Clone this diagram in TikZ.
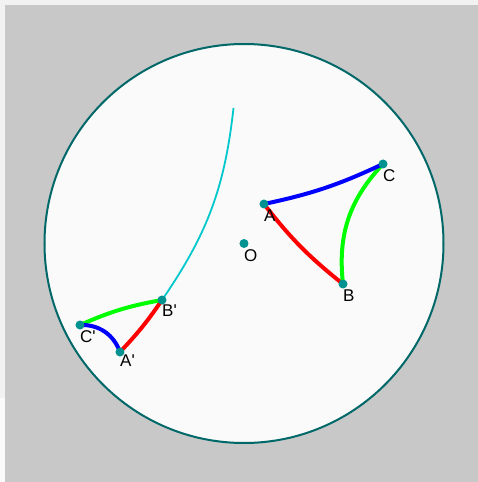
\documentclass[tikz,border=0pt]{standalone}
\usepackage{fontspec}
\setmainfont{Liberation Sans}
\usetikzlibrary{positioning}
\definecolor{frame}{HTML}{F2F2F2}
\definecolor{panel}{HTML}{C8C8C8}
\definecolor{disk}{HTML}{FAFAFA}
\definecolor{rim}{RGB}{0,104,104}
\definecolor{pt}{RGB}{0,145,145}
\definecolor{ray}{RGB}{0,200,205}
\tikzset{
    dot/.style={circle, fill=pt, inner sep=0pt, minimum size=9pt},
    lbl/.style={anchor=north west, inner sep=0pt, font=\fontsize{17}{17}\selectfont},
    side/.style={line width=4pt},
}

\begin{document}
\begin{tikzpicture}[x=1pt, y=1pt]
    \useasboundingbox (-244,-238.5) rectangle (234,243.5);
    \fill[frame] (-244,-238.5) rectangle (234,243.5);
    \fill[disk] (-244,-238.5) rectangle (-239,-154.5);
    \fill[panel] (-239,-238.5) rectangle (234,238.5);
    \draw[rim, line width=2pt, fill=disk] (0,0) circle (199.5);
    \coordinate (O) at (0,0);
    \coordinate (A) at (20,39.5);
    \coordinate (B) at (99,-40.5);
    \coordinate (C) at (139,79.5);
    \coordinate (A1) at (-124,-108.5);
    \coordinate (B1) at (-82,-56.5);
    \coordinate (C1) at (-164,-81.5);
    \coordinate (E) at (-10.5,135.5);
    \draw[ray, line width=1.8pt] (B1) to[bend right=14.1] (E);
    \draw[side, red] (A) to[bend right=6.8] (B);
    \draw[side, green] (B) to[bend left=24.8] (C);
    \draw[side, blue] (C) to[bend left=6.6] (A);
    \draw[side, red] (A1) to[bend right=4.6] (B1);
    \draw[side, green] (B1) to[bend right=6.8] (C1);
    \draw[side, blue] (C1) to[bend left=36] (A1);
    \node[dot] (dO) at (O) {};
    \node[dot] (dA) at (A) {};
    \node[dot] (dB) at (B) {};
    \node[dot] (dC) at (C) {};
    \node[dot] (dA1) at (A1) {};
    \node[dot] (dB1) at (B1) {};
    \node[dot] (dC1) at (C1) {};
    \node[lbl] (lO) at ([yshift=-6pt]O) {O};
    \node[lbl] (lA) at ([yshift=-5.5pt]A) {A};
    \node[lbl] (lB) at ([yshift=-5.5pt]B) {B};
    \node[lbl] (lC) at ([yshift=-5.5pt]C) {C};
    \node[lbl] (lA1) at ([yshift=-3pt]A1) {A\textquotesingle};
    \node[lbl] (lB1) at ([yshift=-5pt]B1) {B\textquotesingle};
    \node[lbl] (lC1) at ([yshift=-5pt]C1) {C\textquotesingle};
\end{tikzpicture}
\end{document}
